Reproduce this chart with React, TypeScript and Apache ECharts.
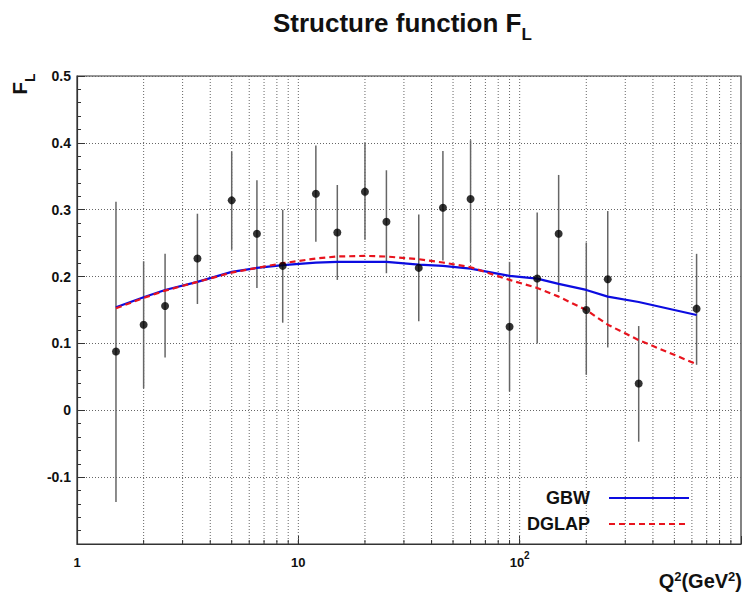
import React, { useEffect, useRef } from "react";
import * as echarts from "echarts";

// Q^2 values (GeV^2) of the measured points
const Q2 = [1.5, 2, 2.5, 3.5, 5, 6.5, 8.5, 12, 15, 20, 25, 35, 45, 60, 90, 120, 150, 200, 250, 345, 630];
// measured F_L with error bar ends
const FL = [0.088, 0.128, 0.156, 0.227, 0.314, 0.264, 0.216, 0.324, 0.266, 0.327, 0.282, 0.213, 0.303, 0.316, 0.125, 0.197, 0.264, 0.150, 0.196, 0.040, 0.152];
const FL_HIGH = [0.312, 0.223, 0.234, 0.294, 0.387, 0.344, 0.300, 0.396, 0.337, 0.400, 0.359, 0.293, 0.388, 0.404, 0.222, 0.296, 0.352, 0.251, 0.298, 0.126, 0.234];
const FL_LOW = [-0.137, 0.033, 0.079, 0.159, 0.240, 0.183, 0.131, 0.252, 0.195, 0.255, 0.205, 0.133, 0.224, 0.222, 0.028, 0.100, 0.177, 0.053, 0.094, -0.047, 0.068];
// model curves, evaluated at the same Q^2 values
const GBW = [0.154, 0.169, 0.180, 0.192, 0.207, 0.213, 0.217, 0.221, 0.222, 0.222, 0.222, 0.218, 0.216, 0.212, 0.201, 0.197, 0.189, 0.180, 0.170, 0.162, 0.1425];
const DGLAP = [0.1526, 0.168, 0.179, 0.192, 0.206, 0.213, 0.220, 0.227, 0.230, 0.231, 0.230, 0.226, 0.221, 0.214, 0.195, 0.183, 0.170, 0.150, 0.128, 0.105, 0.069];
// log-axis grid positions
const X_GRID = [2, 3, 4, 5, 6, 7, 8, 9, 10, 20, 30, 40, 50, 60, 70, 80, 90, 100, 200, 300, 400, 500, 600, 700, 800, 900];
const X_MIN = 1;
const X_MAX = 1000;
const Y_MIN = -0.2;
const Y_MAX = 0.5;
const Y_STEP = 0.1;

const FONT = "'Liberation Sans', Arial, Helvetica, sans-serif";

export default function App() {
  const ref = useRef<HTMLDivElement>(null);
  useEffect(() => {
    if (!ref.current) return;
    const chart = echarts.init(ref.current, undefined, { renderer: "svg" });
    const option: any = {
      animation: false,
      backgroundColor: "#ffffff",
      textStyle: { fontFamily: FONT },
      grid: {
        left: 77,
        right: 2,
        top: 76,
        bottom: 49,
        show: true,
        borderColor: "#333",
        borderWidth: 1.2,
        backgroundColor: "transparent",
      },
      legend: {
        data: ["GBW", "DGLAP"],
        orient: "vertical",
        right: 54,
        top: 489,
        padding: 0,
        align: "right",
        itemWidth: 80,
        itemHeight: 14,
        itemGap: 8,
        itemStyle: { opacity: 0, borderWidth: 0 },
        textStyle: {
          fontFamily: FONT,
          fontWeight: "bold",
          fontSize: 18,
          color: "#111",
          padding: [0, 14, 0, 0],
        },
      },
      xAxis: {
        type: "log",
        logBase: 10,
        min: X_MIN,
        max: X_MAX,
        axisLine: { show: true, onZero: false, lineStyle: { color: "#333", width: 1.2 } },
        axisTick: { show: true, inside: true, length: 8, lineStyle: { color: "#333" } },
        splitLine: { show: false },
        axisLabel: {
          margin: 6,
          fontFamily: FONT,
          fontWeight: "bold",
          fontSize: 13,
          color: "#111",
          lineHeight: 24,
          formatter: (v: number) => {
            if (Math.abs(v - 1) < 1e-9) return "1";
            if (Math.abs(v - 10) < 1e-9) return "10";
            if (Math.abs(v - 100) < 1e-9) return "10{sup|2}";
            return "";
          },
          rich: {
            sup: { fontFamily: FONT, fontWeight: "bold", fontSize: 10, lineHeight: 10, verticalAlign: "top", color: "#111" },
          },
        },
      },
      yAxis: {
        type: "value",
        min: Y_MIN,
        max: Y_MAX,
        interval: Y_STEP,
        axisLine: { show: true, lineStyle: { color: "#333", width: 1.2 } },
        axisTick: { show: true, inside: true, length: 8, lineStyle: { color: "#333" } },
        minorTick: { show: true, splitNumber: 5, length: 4, lineStyle: { color: "#333" } },
        splitLine: { show: true, lineStyle: { color: "#666", width: 1, type: [1, 2] } },
        axisLabel: {
          margin: 6,
          fontFamily: FONT,
          fontWeight: "bold",
          fontSize: 14,
          color: "#111",
          formatter: (v: number) => {
            if (Math.abs(v - Y_MIN) < 1e-9) return "";
            return String(Math.round(v * 10) / 10);
          },
        },
      },
      graphic: [
        {
          type: "text",
          x: 273,
          y: 3,
          style: {
            text: "Structure function F{sub|L}",
            fontFamily: FONT,
            fontWeight: "bold",
            fontSize: 26,
            lineHeight: 40,
            fill: "#111",
            align: "left",
            verticalAlign: "top",
            rich: {
              sub: { fontFamily: FONT, fontWeight: "bold", fontSize: 17, lineHeight: 17, verticalAlign: "bottom", fill: "#111" },
            },
          },
        },
        {
          type: "text",
          x: 19.5,
          y: 84,
          rotation: Math.PI / 2,
          style: {
            text: "F{sub|L}",
            fontFamily: FONT,
            fontWeight: "bold",
            fontSize: 21,
            lineHeight: 34,
            fill: "#111",
            align: "center",
            verticalAlign: "middle",
            rich: {
              sub: { fontFamily: FONT, fontWeight: "bold", fontSize: 14, lineHeight: 14, verticalAlign: "bottom", fill: "#111" },
            },
          },
        },
        {
          type: "text",
          x: 742,
          y: 581,
          style: {
            text: "Q{sup|2}(GeV{sup|2})",
            fontFamily: FONT,
            fontWeight: "bold",
            fontSize: 20,
            lineHeight: 22,
            fill: "#111",
            align: "right",
            verticalAlign: "middle",
            rich: {
              sup: { fontFamily: FONT, fontWeight: "bold", fontSize: 13, lineHeight: 13, verticalAlign: "top", fill: "#111" },
            },
          },
        },
      ],
      series: [
        {
          name: "grid",
          type: "custom",
          silent: true,
          z: 1,
          data: X_GRID.map((v) => [v, Y_MIN, Y_MAX]),
          encode: { x: 0, y: [1, 2] },
          renderItem: (_p: any, api: any) => {
            const v = api.value(0);
            const top = api.coord([v, Y_MAX]);
            const bot = api.coord([v, Y_MIN]);
            return {
              type: "group",
              children: [
                {
                  type: "line",
                  shape: { x1: top[0], y1: top[1], x2: bot[0], y2: bot[1] },
                  style: { stroke: "#666", lineWidth: 1, lineDash: [1, 2] },
                },
                {
                  type: "line",
                  shape: { x1: bot[0], y1: bot[1], x2: bot[0], y2: bot[1] - 4 },
                  style: { stroke: "#333", lineWidth: 1 },
                },
              ],
            };
          },
        },
        {
          name: "errors",
          type: "custom",
          silent: true,
          z: 2,
          data: Q2.map((q, i) => [q, FL_LOW[i], FL_HIGH[i]]),
          encode: { x: 0, y: [1, 2] },
          renderItem: (_p: any, api: any) => {
            const q = api.value(0);
            const lo = api.coord([q, api.value(1)]);
            const hi = api.coord([q, api.value(2)]);
            return {
              type: "line",
              shape: { x1: lo[0], y1: lo[1], x2: hi[0], y2: hi[1] },
              style: { stroke: "#666", lineWidth: 1.5 },
            };
          },
        },
        {
          name: "GBW",
          type: "line",
          z: 3,
          showSymbol: false,
          symbol: "none",
          color: "#0c0ce0",
          lineStyle: { color: "#0c0ce0", width: 2.2, type: "solid" },
          data: Q2.map((q, i) => [q, GBW[i]]),
        },
        {
          name: "DGLAP",
          type: "line",
          z: 3,
          showSymbol: false,
          symbol: "none",
          color: "#e8141e",
          lineStyle: { color: "#e8141e", width: 2.2, type: [6, 4] },
          data: Q2.map((q, i) => [q, DGLAP[i]]),
        },
        {
          name: "data",
          type: "scatter",
          z: 4,
          symbol: "circle",
          symbolSize: 8,
          itemStyle: { color: "#000" },
          data: Q2.map((q, i) => [q, FL[i]]),
        },
      ],
    };
    chart.setOption(option);
    return () => chart.dispose();
  }, []);
  return (
    <div
      ref={ref}
      style={{ position: "fixed", left: 0, top: 0, width: 744, height: 593, background: "#fff" }}
    />
  );
}
